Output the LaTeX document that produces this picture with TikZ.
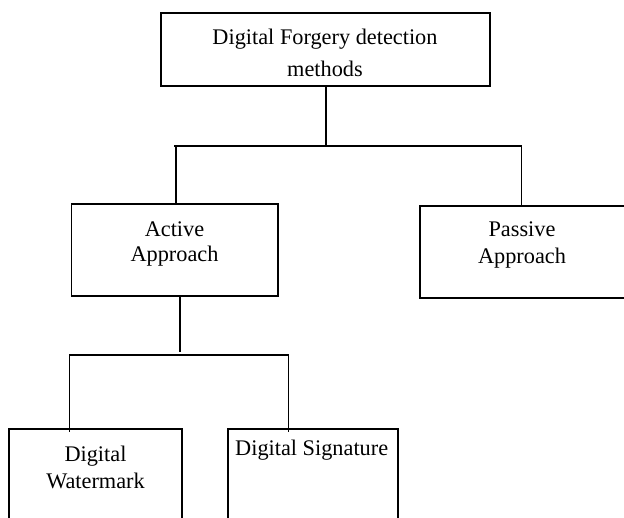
\documentclass[tikz,border=0pt]{standalone}
\usepackage{fontspec}
\setmainfont{Liberation Serif}
\begin{document}
\begin{tikzpicture}[x=1pt,y=-1pt,
  box/.style={draw=black,line width=1.8pt,rectangle,inner sep=0pt,outer sep=0pt},
  lbl/.style={anchor=base,align=center,inner sep=0pt,font=\fontsize{22.3}{26}\selectfont},
  conn/.style={draw=black,line width=1.1pt},
  thick conn/.style={draw=black,line width=1.6pt}]
\useasboundingbox (0,0) rectangle (624,517);
% boxes
\node[box,minimum width=329pt,minimum height=73pt] (top) at (325.5,49.5) {};
\node[box,minimum width=206.5pt,minimum height=92pt] (act) at (174.75,250) {};
\node[box,minimum width=230pt,minimum height=92pt] (pas) at (535,252) {};
\node[box,minimum width=172.7pt,minimum height=120pt] (wat) at (95.35,489.3) {};
\node[box,minimum width=170.6pt,minimum height=120pt] (sig) at (313,489.3) {};
% labels (base anchor = baseline of last line)
\node[lbl,font=\fontsize{22.3}{31.7}\selectfont] (ttop) at (325,76) {Digital Forgery detection\\methods};
\node[lbl,font=\fontsize{22.3}{25.7}\selectfont] (tact) at (174.5,261.7) {Active\\Approach};
\node[lbl,font=\fontsize{22.3}{26.3}\selectfont] (tpas) at (522,263) {Passive\\Approach};
\node[lbl,font=\fontsize{22.3}{26.6}\selectfont] (twat) at (95.5,488.3) {Digital\\Watermark};
\node[lbl] (tsig) at (311.7,455) {Digital Signature};
% connector points
\coordinate (b1l) at (174,146);
\coordinate (b1r) at (521.5,146);
\coordinate (a1) at (176,146);
\coordinate (v2) at (179.7,351.7);
\coordinate (b2l) at (69,355);
\coordinate (b2r) at (288.7,355);
\coordinate (w1) at (69.3,431.7);
\coordinate (s1) at (288.7,431.7);
% connectors
\draw[conn] (top.south -| 326,0) -- (b1l -| 326,0);
\draw[conn] (b1l) -- (b1r);
\draw[conn] (a1) -- (a1 |- act.north);
\draw[conn] (b1r) -- (b1r |- pas.north);
\draw[thick conn] (act.south -| v2) -- (v2);
\draw[thick conn] (b2l) -- (b2r);
\draw[conn] (b2l -| w1) -- (w1);
\draw[conn] (b2r) -- (s1);
\end{tikzpicture}
\end{document}
